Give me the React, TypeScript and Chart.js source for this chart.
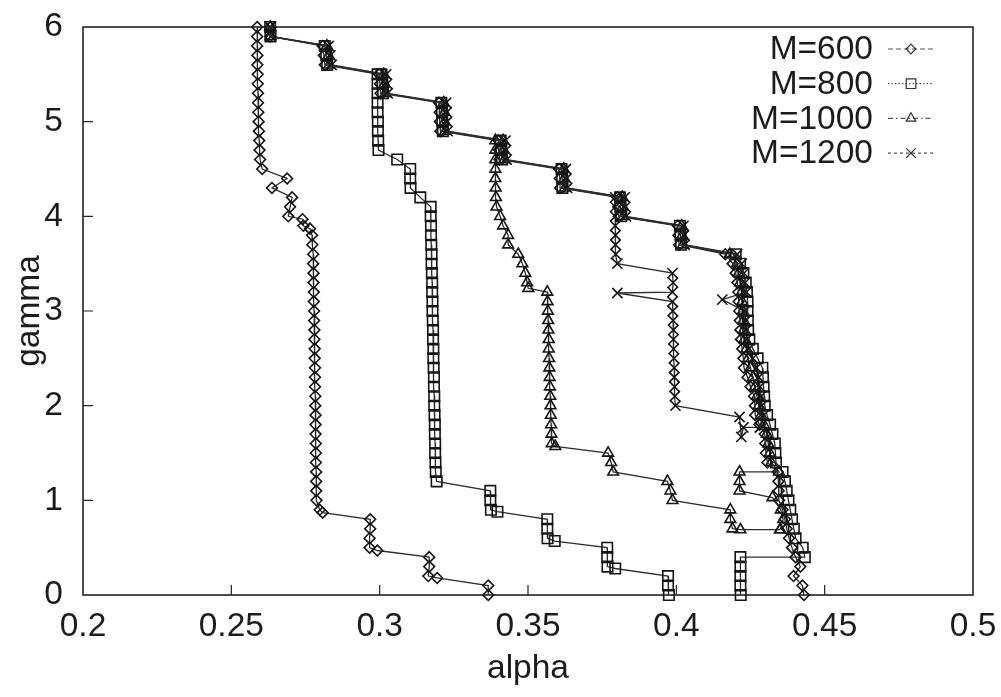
import { useEffect, useRef } from "react";
import { Chart, registerables } from "chart.js";

Chart.register(...registerables);

type Pt = [number, number]; // [alpha, gamma]

const X_TICKS = [0.2, 0.25, 0.3, 0.35, 0.4, 0.45, 0.5];
const Y_TICKS = [0, 1, 2, 3, 4, 5, 6];
const SERIES_LABELS = ["M=600", "M=800", "M=1000", "M=1200"];
const X_TITLE = "alpha";
const Y_TITLE = "gamma";

// ---- M=600 ----
const M600_LEFT: Pt[] = [
  [0.2587, 6.0], [0.2587, 5.9], [0.2587, 5.8], [0.2588, 5.7], [0.2588, 5.6], [0.2589, 5.5], [0.2589, 5.4],
  [0.259, 5.3], [0.259, 5.2], [0.2591, 5.1], [0.2592, 5.0], [0.2593, 4.9], [0.2594, 4.8], [0.2595, 4.7],
  [0.2597, 4.6], [0.2604, 4.5], [0.2688, 4.4], [0.2637, 4.3], [0.2705, 4.2], [0.2698, 4.1], [0.2692, 4.0],
  [0.274, 3.97], [0.2743, 3.9], [0.2765, 3.87], [0.2772, 3.8], [0.2773, 3.7], [0.2776, 3.6], [0.2776, 3.5],
  [0.2777, 3.4], [0.2777, 3.3], [0.2778, 3.2], [0.2778, 3.1], [0.2779, 3.0], [0.2779, 2.9], [0.278, 2.8],
  [0.278, 2.7], [0.2781, 2.6], [0.2781, 2.5], [0.2782, 2.4], [0.2782, 2.3], [0.2782, 2.2], [0.2783, 2.1],
  [0.2783, 2.0], [0.2784, 1.9], [0.2784, 1.8], [0.2784, 1.7], [0.2785, 1.6], [0.2785, 1.5], [0.2785, 1.4],
  [0.2786, 1.3], [0.2786, 1.2], [0.2786, 1.1], [0.2787, 1.0], [0.2798, 0.9], [0.2808, 0.87], [0.2968, 0.8],
  [0.2968, 0.7], [0.2966, 0.6], [0.2966, 0.5], [0.2992, 0.47], [0.3167, 0.4], [0.3167, 0.3], [0.3164, 0.2],
  [0.3194, 0.18], [0.3366, 0.1], [0.3366, 0.0],
];
const M600_RIGHT: Pt[] = [
  [0.2631, 6.0], [0.2631, 5.9], [0.2808, 5.8], [0.2812, 5.7], [0.2815, 5.6], [0.2998, 5.5], [0.3001, 5.4],
  [0.3003, 5.3], [0.32, 5.2], [0.3202, 5.1], [0.3203, 5.0], [0.3205, 4.9], [0.34, 4.8], [0.3402, 4.7],
  [0.3404, 4.6], [0.3605, 4.5], [0.3607, 4.4], [0.3608, 4.3], [0.3802, 4.2], [0.3804, 4.1], [0.3806, 4.0],
  [0.4005, 3.9], [0.4007, 3.8], [0.4009, 3.7], [0.4165, 3.6], [0.419, 3.5], [0.42, 3.4], [0.4206, 3.3],
  [0.4209, 3.2], [0.421, 3.1], [0.4212, 3.0], [0.4214, 2.9], [0.4216, 2.8], [0.4218, 2.7], [0.4222, 2.6],
  [0.4226, 2.5], [0.4228, 2.4], [0.424, 2.3], [0.425, 2.2], [0.4262, 2.1], [0.4265, 2.0], [0.4266, 1.9],
  [0.428, 1.8], [0.4298, 1.7], [0.43, 1.6], [0.4302, 1.5], [0.4307, 1.4], [0.4342, 1.3], [0.4344, 1.2],
  [0.4345, 1.1], [0.4346, 1.0], [0.4358, 0.9], [0.4366, 0.8], [0.4372, 0.7], [0.438, 0.6], [0.439, 0.5],
  [0.4402, 0.4], [0.4418, 0.3], [0.4395, 0.2], [0.4425, 0.1], [0.443, 0.0],
];

// ---- M=800 ----
const M800_LEFT: Pt[] = [
  [0.2993, 5.5], [0.2993, 5.4], [0.2993, 5.3], [0.2993, 5.2], [0.2993, 5.1], [0.2994, 5.0], [0.2994, 4.9],
  [0.2995, 4.8], [0.2996, 4.7], [0.3059, 4.6], [0.3103, 4.5], [0.3103, 4.4], [0.3104, 4.3], [0.3137, 4.2],
  [0.3172, 4.1], [0.3172, 4.0], [0.3173, 3.9], [0.3173, 3.8], [0.3174, 3.7], [0.3175, 3.6], [0.3175, 3.5],
  [0.3176, 3.4], [0.3177, 3.3], [0.3177, 3.2], [0.3178, 3.1], [0.3178, 3.0], [0.3179, 2.9], [0.318, 2.8],
  [0.318, 2.7], [0.3181, 2.6], [0.3181, 2.5], [0.3182, 2.4], [0.3183, 2.3], [0.3183, 2.2], [0.3184, 2.1],
  [0.3184, 2.0], [0.3185, 1.9], [0.3186, 1.8], [0.3186, 1.7], [0.3187, 1.6], [0.3187, 1.5], [0.3188, 1.4],
  [0.3189, 1.3], [0.3192, 1.2], [0.3373, 1.1], [0.3373, 1.0], [0.3375, 0.9], [0.3397, 0.88], [0.3565, 0.8],
  [0.3565, 0.7], [0.3566, 0.6], [0.359, 0.57], [0.3767, 0.5], [0.3767, 0.4], [0.3768, 0.3], [0.3794, 0.28],
  [0.3972, 0.2], [0.3972, 0.1], [0.3975, 0.0],
];
const M800_RIGHT: Pt[] = [
  [0.2631, 6.0], [0.2632, 5.9], [0.2815, 5.8], [0.282, 5.7], [0.2823, 5.6], [0.3006, 5.5], [0.3009, 5.4],
  [0.3011, 5.3], [0.3208, 5.2], [0.321, 5.1], [0.3211, 5.0], [0.3213, 4.9], [0.3408, 4.8], [0.341, 4.7],
  [0.3412, 4.6], [0.3613, 4.5], [0.3615, 4.4], [0.3616, 4.3], [0.381, 4.2], [0.3812, 4.1], [0.3814, 4.0],
  [0.4012, 3.9], [0.4014, 3.8], [0.4016, 3.7], [0.42, 3.6], [0.4215, 3.5], [0.4226, 3.4], [0.4234, 3.3],
  [0.4238, 3.2], [0.424, 3.1], [0.424, 3.0], [0.4241, 2.9], [0.4242, 2.8], [0.4246, 2.7], [0.4258, 2.6],
  [0.4274, 2.5], [0.429, 2.4], [0.4292, 2.3], [0.4294, 2.2], [0.4296, 2.1], [0.4298, 2.0], [0.4306, 1.9],
  [0.4316, 1.8], [0.4324, 1.7], [0.4332, 1.6], [0.4334, 1.5], [0.4336, 1.4], [0.4358, 1.3], [0.4366, 1.2],
  [0.4372, 1.1], [0.4378, 1.0], [0.4384, 0.9], [0.439, 0.8], [0.4396, 0.7], [0.4402, 0.6], [0.4426, 0.5],
  [0.4433, 0.4], [0.4216, 0.4], [0.4216, 0.3], [0.4216, 0.2], [0.4216, 0.1], [0.4217, 0.0],
];

// ---- M=1000 ----
const M1000_LEFT: Pt[] = [
  [0.339, 4.8], [0.339, 4.7], [0.339, 4.6], [0.339, 4.5], [0.339, 4.4], [0.3391, 4.3], [0.3392, 4.2],
  [0.3394, 4.1], [0.3406, 4.0], [0.3416, 3.9], [0.3433, 3.8], [0.3433, 3.7], [0.3467, 3.6], [0.3481, 3.5],
  [0.3491, 3.4], [0.3497, 3.3], [0.3501, 3.24], [0.3565, 3.2], [0.3566, 3.1], [0.3567, 3.0], [0.3568, 2.9],
  [0.3569, 2.8], [0.357, 2.7], [0.357, 2.6], [0.3571, 2.5], [0.3572, 2.4], [0.3573, 2.3], [0.3574, 2.2],
  [0.3575, 2.1], [0.3576, 2.0], [0.3577, 1.9], [0.3578, 1.8], [0.3579, 1.7], [0.358, 1.6], [0.3592, 1.57],
  [0.377, 1.5], [0.378, 1.4], [0.3787, 1.3], [0.397, 1.2], [0.398, 1.1], [0.3987, 1.0], [0.4182, 0.9],
  [0.4182, 0.8], [0.4189, 0.7], [0.4216, 0.69], [0.435, 0.69],
];
const M1000_RIGHT: Pt[] = [
  [0.2631, 6.0], [0.2632, 5.9], [0.2822, 5.8], [0.2828, 5.7], [0.283, 5.6], [0.3014, 5.5], [0.3017, 5.4],
  [0.3019, 5.3], [0.3216, 5.2], [0.3218, 5.1], [0.3219, 5.0], [0.3221, 4.9], [0.3416, 4.8], [0.3418, 4.7],
  [0.342, 4.6], [0.362, 4.5], [0.3622, 4.4], [0.3624, 4.3], [0.3818, 4.2], [0.382, 4.1], [0.3822, 4.0],
  [0.4018, 3.9], [0.402, 3.8], [0.4022, 3.7], [0.418, 3.6], [0.4205, 3.5], [0.421, 3.4], [0.4215, 3.3],
  [0.422, 3.2], [0.4222, 3.1], [0.4224, 3.0], [0.4226, 2.9], [0.4228, 2.8], [0.423, 2.7], [0.4236, 2.6],
  [0.4242, 2.5], [0.425, 2.4], [0.4258, 2.3], [0.4265, 2.2], [0.4272, 2.1], [0.4278, 2.0], [0.4285, 1.9],
  [0.4295, 1.8], [0.4305, 1.7], [0.431, 1.6], [0.4315, 1.5], [0.432, 1.4], [0.4346, 1.3], [0.4213, 1.3],
  [0.4213, 1.2], [0.4213, 1.1], [0.4324, 1.03], [0.4352, 0.9], [0.436, 0.8], [0.435, 0.69],
];

// ---- M=1200 ----
const M1200_LEFT: Pt[] = [
  [0.3794, 4.2], [0.3794, 4.1], [0.3794, 4.0], [0.3794, 3.9], [0.3795, 3.8], [0.3795, 3.7], [0.3796, 3.6],
  [0.3801, 3.5], [0.3987, 3.4], [0.3989, 3.3], [0.3987, 3.2], [0.3801, 3.19], [0.3987, 3.1], [0.3988, 3.0],
  [0.3989, 2.9], [0.399, 2.8], [0.399, 2.7], [0.3991, 2.6], [0.3992, 2.5], [0.3993, 2.4], [0.3993, 2.3],
  [0.3994, 2.2], [0.3995, 2.1], [0.3997, 2.0], [0.4213, 1.88], [0.4219, 1.67], [0.4226, 1.77], [0.4282, 1.77],
];
const M1200_RIGHT: Pt[] = [
  [0.2631, 6.0], [0.2633, 5.9], [0.2828, 5.8], [0.2834, 5.7], [0.2838, 5.6], [0.3022, 5.5], [0.3025, 5.4],
  [0.3027, 5.3], [0.3224, 5.2], [0.3226, 5.1], [0.3227, 5.0], [0.3229, 4.9], [0.3424, 4.8], [0.3426, 4.7],
  [0.3428, 4.6], [0.3628, 4.5], [0.363, 4.4], [0.3632, 4.3], [0.3826, 4.2], [0.3828, 4.1], [0.383, 4.0],
  [0.4024, 3.9], [0.4026, 3.8], [0.4028, 3.7], [0.4205, 3.6], [0.422, 3.5], [0.4228, 3.4], [0.4232, 3.3],
  [0.4236, 3.2], [0.4155, 3.12], [0.423, 3.0], [0.4234, 2.9], [0.4236, 2.8], [0.4238, 2.7], [0.4245, 2.6],
  [0.4258, 2.5], [0.427, 2.4], [0.4278, 2.3], [0.4282, 2.2], [0.4286, 2.1], [0.4288, 2.0], [0.4295, 1.9],
  [0.4282, 1.77],
];

const SERIES_PATHS: Pt[][][] = [
  [M600_LEFT, M600_RIGHT],
  [M800_LEFT, M800_RIGHT],
  [M1000_LEFT, M1000_RIGHT],
  [M1200_LEFT, M1200_RIGHT],
];

// ---- styles ----
const FONT = '"Liberation Sans", Arial, Helvetica, sans-serif';
const TEXT_COLOR = "#1c1c1c";
const LINE_COLOR = "#2e2e2e";
const MARK_COLOR = "#151515";
const MARKERS = [
  { style: "rectRot", radius: 5.4, dash: [5, 3] },
  { style: "rect", radius: 7.4, dash: [1.5, 2] },
  { style: "triangle", radius: 6.2, dash: [5, 3, 1.5, 3] },
  { style: "crossRot", radius: 7.2, dash: [3, 3] },
];

function drawMarker(ctx: CanvasRenderingContext2D, style: string, x: number, y: number, r: number) {
  ctx.beginPath();
  if (style === "rectRot") {
    ctx.moveTo(x, y - r);
    ctx.lineTo(x + r, y);
    ctx.lineTo(x, y + r);
    ctx.lineTo(x - r, y);
    ctx.closePath();
  } else if (style === "rect") {
    const s = r * Math.SQRT1_2;
    ctx.rect(x - s, y - s, 2 * s, 2 * s);
  } else if (style === "triangle") {
    for (let k = 0; k < 3; k++) {
      const a = (k * 2 * Math.PI) / 3;
      const px = x + Math.sin(a) * r;
      const py = y - Math.cos(a) * r;
      if (k === 0) ctx.moveTo(px, py);
      else ctx.lineTo(px, py);
    }
    ctx.closePath();
  } else {
    const d = r * Math.SQRT1_2;
    ctx.moveTo(x - d, y - d);
    ctx.lineTo(x + d, y + d);
    ctx.moveTo(x + d, y - d);
    ctx.lineTo(x - d, y + d);
  }
  ctx.stroke();
}

const framePlugin = {
  id: "frameAndLegend",
  beforeDatasetsDraw(chart: any) {
    const { ctx, chartArea: a, scales } = chart;
    ctx.save();
    ctx.strokeStyle = "#222";
    ctx.lineWidth = 1.6;
    ctx.strokeRect(a.left, a.top, a.right - a.left, a.bottom - a.top);
    ctx.lineWidth = 1.2;
    ctx.beginPath();
    for (const v of X_TICKS) {
      const px = scales.x.getPixelForValue(v);
      if (px > a.left + 2 && px < a.right - 2) {
        ctx.moveTo(px, a.bottom);
        ctx.lineTo(px, a.bottom - 10);
      }
    }
    for (const v of Y_TICKS) {
      const py = scales.y.getPixelForValue(v);
      if (py > a.top + 2 && py < a.bottom - 2) {
        ctx.moveTo(a.left, py);
        ctx.lineTo(a.left + 10, py);
      }
    }
    ctx.stroke();

    ctx.fillStyle = TEXT_COLOR;
    ctx.font = `33.5px ${FONT}`;
    ctx.textAlign = "center";
    ctx.textBaseline = "middle";
    ctx.fillText(X_TITLE, (a.left + a.right) / 2, a.bottom + 74);
    ctx.save();
    ctx.translate(a.left - 53, (a.top + a.bottom) / 2);
    ctx.rotate(-Math.PI / 2);
    ctx.fillText(Y_TITLE, 0, 0);
    ctx.restore();
    ctx.restore();
  },
  afterDatasetsDraw(chart: any) {
    const { ctx, chartArea: a } = chart;
    ctx.save();
    ctx.font = `33.5px ${FONT}`;
    ctx.textAlign = "right";
    ctx.textBaseline = "middle";
    SERIES_LABELS.forEach((label, i) => {
      const y = a.top + 22 + i * 34.7;
      ctx.fillStyle = TEXT_COLOR;
      ctx.fillText(label, a.right - 100, y + 1);
      const m = MARKERS[i];
      ctx.strokeStyle = "#555";
      ctx.lineWidth = 1.2;
      ctx.setLineDash(m.dash);
      ctx.beginPath();
      ctx.moveTo(a.right - 85, y);
      ctx.lineTo(a.right - 40, y);
      ctx.stroke();
      ctx.setLineDash([]);
      ctx.strokeStyle = "#333";
      ctx.lineWidth = 1.2;
      drawMarker(ctx, m.style, a.right - 62, y, m.radius - 0.6);
    });
    ctx.restore();
  },
};

export default function App() {
  const canvasRef = useRef<HTMLCanvasElement | null>(null);

  useEffect(() => {
    const canvas = canvasRef.current;
    if (!canvas) return;
    const datasets: any[] = [];
    SERIES_PATHS.forEach((paths, si) => {
      paths.forEach((path, pi) => {
        datasets.push({
          label: `${SERIES_LABELS[si]}${pi === 0 ? "" : " (b)"}`,
          data: path.map(([alpha, gamma]) => ({ x: alpha, y: gamma })),
          showLine: true,
          borderColor: LINE_COLOR,
          borderWidth: 1.3,
          pointStyle: MARKERS[si].style,
          pointRadius: MARKERS[si].radius,
          pointHoverRadius: MARKERS[si].radius,
          pointBorderColor: MARK_COLOR,
          pointBackgroundColor: "rgba(0,0,0,0)",
          pointBorderWidth: 1.6,
          tension: 0,
          clip: false,
        });
      });
    });

    const chart = new Chart(canvas, {
      type: "scatter",
      data: { datasets },
      options: {
        animation: false,
        responsive: false,
        devicePixelRatio: 1,
        layout: { padding: { left: 0, right: 28, top: 27, bottom: 0 } },
        plugins: {
          legend: { display: false },
          tooltip: { enabled: false },
        },
        scales: {
          x: {
            type: "linear",
            min: 0.2,
            max: 0.5,
            grid: { display: false },
            border: { display: false },
            afterBuildTicks: (s: any) => {
              s.ticks = X_TICKS.map((v) => ({ value: v }));
            },
            afterFit: (s: any) => {
              s.height = 102;
              s.paddingLeft = 0;
              s.paddingRight = 0;
            },
            ticks: {
              padding: 4,
              color: TEXT_COLOR,
              font: { family: FONT, size: 33.5 },
              maxRotation: 0,
              callback: (v: any) => String(Number(Number(v).toFixed(2))),
            },
          },
          y: {
            type: "linear",
            min: 0,
            max: 6,
            grid: { display: false },
            border: { display: false },
            afterBuildTicks: (s: any) => {
              s.ticks = Y_TICKS.map((v) => ({ value: v }));
            },
            afterFit: (s: any) => {
              s.width = 83;
              s.paddingTop = 0;
              s.paddingBottom = 0;
            },
            ticks: {
              padding: 12,
              color: TEXT_COLOR,
              font: { family: FONT, size: 33.5 },
              callback: (v: any) => String(v),
            },
          },
        },
      },
      plugins: [framePlugin],
    });
    return () => chart.destroy();
  }, []);

  return (
    <div style={{ position: "absolute", left: 0, top: 0, width: 1001, height: 697, background: "#fff" }}>
      <canvas ref={canvasRef} width={1001} height={697} style={{ display: "block" }} />
    </div>
  );
}
